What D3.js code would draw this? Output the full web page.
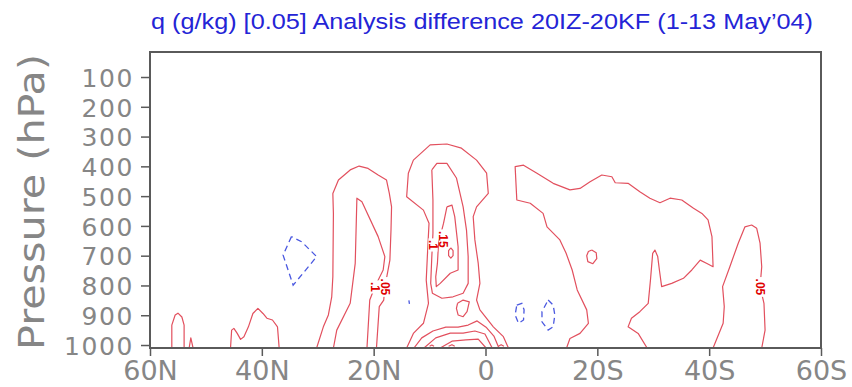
<!DOCTYPE html>
<html><head><meta charset="utf-8">
<script src="https://cdn.jsdelivr.net/npm/d3@7"></script>
<style>html,body{margin:0;padding:0;background:#fff;} svg{display:block;}</style>
</head><body>
<svg id="c" width="852" height="387"></svg>
<script>
// ---------- data ----------
const titleText = "q (g/kg) [0.05] Analysis difference 20IZ-20KF (1-13 May\u201904)";
const yTitle = "Pressure (hPa)";
const latTicks = [60, 40, 20, 0, -20, -40, -60];
const latTickLabels = ["60N", "40N", "20N", "0", "20S", "40S", "60S"];
const pTicks = [100, 200, 300, 400, 500, 600, 700, 800, 900, 1000];

// positive contours (red, solid): [lat, hPa]
const c05_55N = [[56.1,1010],[56.1,933],[55.5,899],[55.0,893],[54.3,906],[53.9,933],[53.9,1010]];
const c05_53N = [[53.0,1010],[52.7,976],[52.3,1010]];
const c05_40N = [[45.6,1010],[45.4,950],[45.0,944],[44.4,961],[43.8,981],[43.2,972],[42.4,939],[41.6,894],[40.7,877],[39.8,894],[39.1,910],[38.1,916],[37.2,939],[36.9,1010]];
const c05_20N = [[30.2,1010],[29.0,939],[28.1,899],[27.5,838],[27.3,771],[27.2,558],[27.3,491],[26.3,446],[24.2,412],[22.6,399],[21.0,407],[19.2,429],[17.7,446],[17.2,491],[16.8,536],[16.9,614],[17.1,715],[17.6,765],[18.0,805],[18.2,849],[19.0,871],[19.5,1010]];
const c10_20N = [[27.2,1010],[26.6,950],[24.2,860],[23.3,726],[23.0,507],[22.1,519],[19.2,636],[18.0,703],[18.3,748],[19.8,805],[20.7,849],[21.2,1010]];
const c05_5N = [[14.1,1010],[12.9,961],[11.1,927],[10.2,860],[10.6,782],[10.4,703],[10.1,591],[11.1,547],[14.1,502],[13.8,423],[12.9,379],[9.9,328],[6.9,325],[4.3,339],[1.6,379],[-0.2,423],[-0.5,491],[1.6,536],[2.2,569],[1.9,647],[1.3,726],[1.0,793],[1.6,849],[1.0,882],[-1.4,939],[-3.2,972],[-4.1,1010]];
const c10_5N = [[9.6,412],[8.7,390],[6.9,390],[5.2,439],[4.0,536],[3.4,614],[3.1,703],[3.1,793],[4.0,826],[5.8,838],[7.8,843],[9.5,826],[9.8,793],[9.6,703],[9.4,625],[9.4,513],[9.6,412]];
const c15_5N = [[6.9,536],[6.0,530],[5.5,569],[4.9,670],[4.9,748],[6.3,759],[8.1,793],[8.8,804],[8.9,771],[8.6,726],[8.4,658],[7.5,591],[6.9,536]];
const c20_5N = [[6.2,674],[5.8,683],[5.8,700],[6.2,708],[6.6,700],[6.6,683],[6.2,674]];
const c10_3N = [[5.0,860],[4.0,849],[2.9,855],[3.3,888],[4.0,905],[4.9,899],[5.2,877],[5.0,860]];
const c10_sfc = [[12.8,1010],[11.4,976],[9.4,953],[7.1,940],[4.9,940],[3.1,933],[1.5,919],[-0.1,940],[-1.5,970],[-2.4,1010]];
const c15_sfc = [[11.0,1010],[8.9,976],[6.3,960],[4.0,960],[1.9,953],[0.1,963],[-1.2,1010]];
const c20_sfc = [[8.1,1010],[6.0,987],[3.5,983],[1.3,980],[-0.1,1010]];
const c25_a = [[6.6,1004],[6.0,999],[5.5,1004]];
const c25_b = [[-2.3,1004],[-2.8,999],[-3.3,1004]];
const c25_c = [[10.0,1004],[9.6,1000],[9.2,1004]];
const c05_30S = [[-14.5,1010],[-15.1,978],[-16.9,961],[-18.4,927],[-18.1,882],[-16.4,815],[-15.5,748],[-14.4,691],[-13.3,647],[-11.0,603],[-10.3,558],[-8.0,524],[-5.6,513],[-5.3,401],[-6.8,396],[-9.2,423],[-12.1,457],[-15.1,479],[-16.9,474],[-18.7,452],[-20.8,429],[-22.6,435],[-23.2,455],[-25.5,457],[-27.6,485],[-29.4,507],[-31.2,522],[-33.0,507],[-35.1,513],[-37.2,541],[-38.7,558],[-39.8,580],[-40.5,636],[-40.7,737],[-39.6,726],[-38.4,715],[-36.9,748],[-35.4,776],[-33.3,793],[-31.5,804],[-31.1,748],[-30.8,703],[-30.3,681],[-29.9,692],[-29.5,782],[-29.1,860],[-27.6,888],[-26.1,910],[-25.5,939],[-27.3,961],[-28.9,1010]];
const c05_19S = [[-19.0,681],[-19.8,690],[-19.9,710],[-19.2,727],[-18.3,720],[-18.1,700],[-18.4,686],[-19.0,681]];
const c05_48S = [[-40.7,1010],[-42.5,927],[-42.7,871],[-42.4,804],[-43.7,737],[-45.2,658],[-46.4,603],[-47.6,597],[-48.5,608],[-49.1,658],[-49.4,737],[-49.1,804],[-49.8,860],[-50.0,950],[-49.4,1010]];

// negative contours (blue, dashed)
const n05_33N = [[34.7,636],[36.2,698],[34.4,799],[31.4,731],[30.2,703],[32.9,653],[34.7,636]];
const n05_14N = [[13.7,850],[13.6,862]];
const n05_6S = [[-5.6,866],[-6.5,860],[-6.9,882],[-6.8,916],[-5.9,927],[-5.3,899],[-5.6,866]];
const n05_11S = [[-11.2,849],[-12.1,866],[-12.4,899],[-12.1,939],[-11.2,950],[-10.1,922],[-10.1,888],[-11.2,849]];

// contour labels
const labelTexts = [".1", ".05", ".1", ".15", ".05"];
const labelLats  = [19.8, 18.0, 9.4, 7.5, -49.2];
const labelPs    = [805, 805, 664, 645, 805];

const redContours = [c05_55N, c05_53N, c05_40N, c05_20N, c10_20N, c05_5N, c10_5N, c15_5N, c20_5N, c10_3N,
  c10_sfc, c15_sfc, c20_sfc, c25_a, c25_b, c25_c, c05_30S, c05_19S, c05_48S];
const blueContours = [n05_33N, n05_14N, n05_6S, n05_11S];

// ---------- drawing ----------
const svg = d3.select("#c");
const x = d3.scaleLinear().domain([60, -60]).range([150, 821]);
const y = d3.scaleLinear().domain([16, 1010]).range([52, 348]);
const axisGray = "#868686";
const axisFont = "'DejaVu Sans', sans-serif";

svg.append("text")
  .attr("x", 482).attr("y", 29)
  .attr("text-anchor", "middle")
  .attr("font-family", "'Liberation Sans', Arial, sans-serif")
  .attr("font-size", 22)
  .attr("fill", "#2424d6")
  .attr("textLength", 662).attr("lengthAdjust", "spacingAndGlyphs")
  .text(titleText);

svg.append("defs").append("clipPath").attr("id", "plotclip")
  .append("rect").attr("x", x(60)).attr("y", y(16))
  .attr("width", x(-60) - x(60)).attr("height", y(1010) - y(16));

const line = d3.line().x(d => x(d[0])).y(d => y(d[1]));
const plot = svg.append("g").attr("clip-path", "url(#plotclip)");

plot.selectAll("path.pos").data(redContours).join("path")
  .attr("class", "pos").attr("d", line)
  .attr("fill", "none").attr("stroke", "#e2505e").attr("stroke-width", 1.2)
  .attr("stroke-linejoin", "round");

plot.selectAll("path.neg").data(blueContours).join("path")
  .attr("class", "neg").attr("d", line)
  .attr("fill", "none").attr("stroke", "#4a58e0").attr("stroke-width", 1.3)
  .attr("stroke-dasharray", "6,4");

const labG = plot.selectAll("g.lab").data(labelTexts).join("g")
  .attr("class", "lab")
  .attr("transform", (d, i) => `translate(${x(labelLats[i])},${y(labelPs[i])}) rotate(90)`);
labG.append("rect")
  .attr("x", d => -d.length * 3.3).attr("y", -4.5)
  .attr("width", d => d.length * 6.6).attr("height", 9)
  .attr("fill", "#fff");
labG.append("text")
  .attr("text-anchor", "middle").attr("dy", "0.35em")
  .attr("font-family", "'Liberation Sans Narrow', 'Liberation Sans', sans-serif")
  .attr("font-weight", "bold").attr("font-size", 12)
  .attr("fill", "#e00000")
  .text(d => d);

// frame
svg.append("rect")
  .attr("x", x(60)).attr("y", y(16))
  .attr("width", x(-60) - x(60)).attr("height", y(1010) - y(16))
  .attr("fill", "none").attr("stroke", "#5a5a5a").attr("stroke-width", 2);

// y axis
const yAxis = svg.append("g").attr("transform", `translate(${x(60)},0)`)
  .call(d3.axisLeft(y).tickValues(pTicks).tickSize(9).tickPadding(7).tickFormat(d3.format("d")));
yAxis.select(".domain").remove();
yAxis.selectAll(".tick line").attr("stroke", "#5a5a5a").attr("stroke-width", 1.5);
yAxis.selectAll(".tick text")
  .attr("font-family", axisFont).attr("font-size", 25)
  .attr("letter-spacing", "1.6px")
  .attr("fill", axisGray).attr("dy", "0.37em");

// x axis
const xAxis = svg.append("g").attr("transform", `translate(0,${y(1010)})`)
  .call(d3.axisBottom(x).tickValues(latTicks).tickSize(8).tickPadding(5)
    .tickFormat((d, i) => latTickLabels[i]));
xAxis.select(".domain").remove();
xAxis.selectAll(".tick line").attr("stroke", "#5a5a5a").attr("stroke-width", 1.5);
xAxis.selectAll(".tick text")
  .attr("font-family", axisFont).attr("font-size", 27)
  .attr("fill", axisGray).attr("dy", "0.71em");

svg.append("text")
  .attr("transform", `translate(44,${(y(16) + y(1010)) / 2 + 2}) rotate(-90)`)
  .attr("text-anchor", "middle")
  .attr("font-family", axisFont).attr("font-size", 36)
  .attr("fill", axisGray)
  .attr("textLength", 296).attr("lengthAdjust", "spacingAndGlyphs")
  .text(yTitle);
</script>
</body></html>
